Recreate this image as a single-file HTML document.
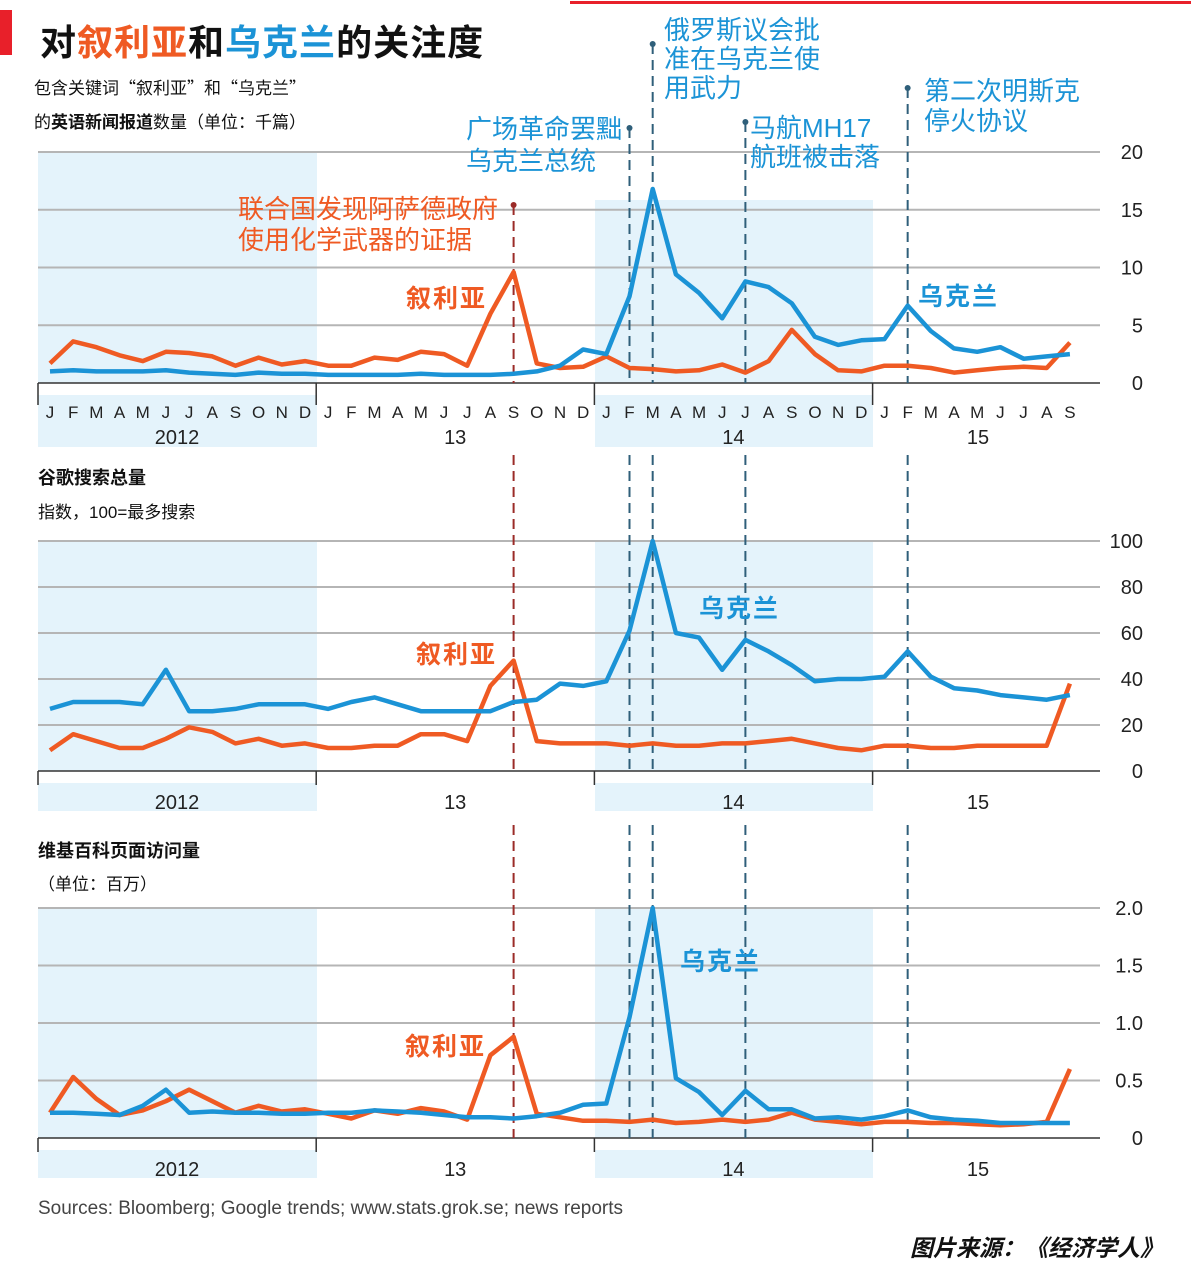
<!DOCTYPE html>
<html><head><meta charset="utf-8">
<style>
body{margin:0;background:#fff;}
svg text{font-family:"Liberation Sans","Noto Sans CJK SC",sans-serif;}
</style></head>
<body>
<svg id="chart" width="1191" height="1276" xmlns="http://www.w3.org/2000/svg">
<rect x="0" y="10" width="12" height="45" fill="#e8202a"/>
<rect x="570" y="1" width="621" height="3" fill="#e8202a"/>
<text x="40" y="55" font-size="36" font-weight="bold" letter-spacing="1" fill="#111">对<tspan fill="#ef5a23">叙利亚</tspan>和<tspan fill="#1b93d6">乌克兰</tspan>的关注度</text>
<text x="34" y="94" font-size="17" fill="#111" style="font-family:'Noto Sans CJK SC',sans-serif">包含关键词“叙利亚”和“乌克兰”</text>
<text x="34" y="128" font-size="17" fill="#111" style="font-family:'Noto Sans CJK SC',sans-serif">的<tspan font-weight="bold">英语新闻报道</tspan>数量（单位：千篇）</text>
<g id="panels"></g>
<text x="38" y="484" font-size="18" font-weight="bold" fill="#111">谷歌搜索总量</text>
<text x="38" y="518" font-size="17" fill="#111">指数，100=最多搜索</text>
<text x="38" y="857" font-size="18" font-weight="bold" fill="#111">维基百科页面访问量</text>
<text x="38" y="890" font-size="17" fill="#111">（单位：百万）</text>
<text x="38" y="1214" font-size="19" fill="#444">Sources: Bloomberg; Google trends; www.stats.grok.se; news reports</text>
<text x="1163" y="1256" font-size="23" font-weight="bold" font-style="italic" fill="#111" text-anchor="end">图片来源：《经济学人》</text>
</svg>
<script>
const months = ["J","F","M","A","M","J","J","A","S","O","N","D"];
const yearLabels = ["2012","13","14","15"];
const news_ukraine = [1.0,1.1,1.0,1.0,1.0,1.1,0.9,0.8,0.7,0.9,0.8,0.8, 0.7,0.7,0.7,0.7,0.8,0.7,0.7,0.7,0.8,1.0,1.5,2.9, 2.5,7.5,16.8,9.4,7.8,5.6,8.8,8.3,6.9,4.0,3.3,3.7, 3.8,6.7,4.5,3.0,2.7,3.1,2.1,2.3,2.5];
const news_syria = [1.7,3.6,3.1,2.4,1.9,2.7,2.6,2.3,1.5,2.2,1.6,1.9, 1.5,1.5,2.2,2.0,2.7,2.5,1.5,6.0,9.6,1.7,1.3,1.4, 2.3,1.3,1.2,1.0,1.1,1.6,0.9,1.9,4.6,2.5,1.1,1.0, 1.5,1.5,1.3,0.9,1.1,1.3,1.4,1.3,3.5];
const search_ukraine = [27,30,30,30,29,44,26,26,27,29,29,29, 27,30,32,29,26,26,26,26,30,31,38,37, 39,61,100,60,58,44,57,52,46,39,40,40, 41,52,41,36,35,33,32,31,33];
const search_syria = [9,16,13,10,10,14,19,17,12,14,11,12, 10,10,11,11,16,16,13,37,48,13,12,12, 12,11,12,11,11,12,12,13,14,12,10,9, 11,11,10,10,11,11,11,11,38];
const wiki_ukraine = [0.22,0.22,0.21,0.20,0.28,0.42,0.22,0.23,0.22,0.22,0.21,0.21, 0.22,0.22,0.24,0.23,0.22,0.20,0.18,0.18,0.17,0.19,0.22,0.29, 0.30,1.05,2.0,0.52,0.40,0.20,0.41,0.25,0.25,0.17,0.18,0.16, 0.19,0.24,0.18,0.16,0.15,0.13,0.13,0.13,0.13];
const wiki_syria = [0.22,0.53,0.34,0.20,0.24,0.32,0.42,0.32,0.22,0.28,0.23,0.25, 0.21,0.17,0.24,0.21,0.26,0.23,0.16,0.72,0.88,0.21,0.18,0.15, 0.15,0.14,0.16,0.13,0.14,0.16,0.14,0.16,0.22,0.16,0.14,0.12, 0.14,0.14,0.13,0.13,0.12,0.11,0.12,0.14,0.60];
const ticks1 = [0,5,10,15,20];
const ticks2 = [0,20,40,60,80,100];
const ticks3 = ["0","0.5","1.0","1.5","2.0"];
const eventMonths = [20,25,26,30,37];

const NS="http://www.w3.org/2000/svg";
const root=document.getElementById('panels');
const BLUE="#1b93d6", RED="#ef5a23";
function xPos(i){return 50+i*23.18;}
function mk(tag,attrs,parent){const e=document.createElementNS(NS,tag);for(const k in attrs)e.setAttribute(k,attrs[k]);(parent||root).appendChild(e);return e;}

const panels=[
 {top:152,bottom:383,max:20,ticks:ticks1,labels:ticks1.map(String),u:news_ukraine,s:news_syria,months:true,band2top:200,lineTop:[205,128,44,122,88]},
 {top:541,bottom:771,max:100,ticks:ticks2,labels:ticks2.map(String),u:search_ukraine,s:search_syria,months:false,band2top:541,lineTop:[455,455,455,455,455]},
 {top:908,bottom:1138,max:2,ticks:ticks3.map(Number),labels:ticks3,u:wiki_ukraine,s:wiki_syria,months:false,band2top:908,lineTop:[825,825,825,825,825]}
];
panels.forEach((p,pi)=>{
 const g=mk('g',{});
 
 
 const y=v=>p.bottom-(v/p.max)*(p.bottom-p.top);
 const labBot=p.bottom+(p.months?64:40);
 let b=mk('rect',{x:38,y:p.top,width:279,height:labBot-p.top,fill:"#e4f3fb"},g);
 
 b=mk('rect',{x:595,y:p.band2top,width:278,height:labBot-p.band2top,fill:"#e4f3fb"},g);
 
 mk('rect',{x:38,y:p.bottom,width:1080,height:12,fill:"#fff"},g);
 p.ticks.forEach((t,i)=>{
  const gl=mk('line',{x1:38,x2:1100,y1:y(t),y2:y(t),stroke:i==0?"#333":"#b5b5b5","stroke-width":i==0?1.5:2},g);
  
  const tl=mk('text',{x:1143,y:y(t)+7,"font-size":20,fill:"#222","text-anchor":"end"},g);
  tl.textContent=p.labels[i];
  
 });
 for(let i=0;i<45;i++){
  if(p.months){
   const ml=mk('text',{x:xPos(i),y:p.bottom+35,"font-size":17,fill:"#222","text-anchor":"middle"},g);
   ml.textContent=months[i%12];
   
  }
 }
 for(let k=0;k<=3;k++){
  const xb=38+k*278.2;
  mk('line',{x1:xb,x2:xb,y1:p.bottom,y2:p.bottom+(p.months?22:14),stroke:"#333","stroke-width":1.5},g);
  const yl=mk('text',{x:k==3?978:xb+139,y:p.bottom+(p.months?61:38),"font-size":20,fill:"#222","text-anchor":"middle"},g);
  yl.textContent=yearLabels[k];
  
 }
 eventMonths.forEach((m,k)=>{
  const ln=mk('line',{x1:xPos(m),x2:xPos(m),y1:p.lineTop[k],y2:p.bottom,stroke:k==0?"#9b2b28":"#2f5f7a","stroke-width":2,"stroke-dasharray":"10,6"},g);
  
  if(pi==0){const d=mk('circle',{cx:xPos(m),cy:p.lineTop[k],r:3,fill:k==0?"#9b2b28":"#2f5f7a"},g);
   }
 });
 [[p.s,RED,'syria-line'],[p.u,BLUE,'ukraine-line']].forEach(([arr,c,n])=>{
  const pts=arr.map((v,i)=>xPos(i).toFixed(1)+','+y(v).toFixed(1)).join(' ');
  const pl=mk('polyline',{points:pts,fill:"none",stroke:c,"stroke-width":4.5,"stroke-linejoin":"round"},g);
  
 });
});
function lbl(x,yy,txt,c,size,name){const t=mk('text',{x:x,y:yy,"font-size":size,fill:c});t.textContent=txt;
 return t;}
lbl(238,218,"联合国发现阿萨德政府",RED,26,'annotation-chemical');
lbl(238,249,"使用化学武器的证据",RED,26,'annotation-chemical-2');
lbl(466,138,"广场革命罢黜",BLUE,26,'annotation-maidan');
lbl(466,170,"乌克兰总统",BLUE,26,'annotation-maidan-2');
lbl(664,39,"俄罗斯议会批",BLUE,26,'annotation-russia');
lbl(664,68,"准在乌克兰使",BLUE,26,'annotation-russia-2');
lbl(664,97,"用武力",BLUE,26,'annotation-russia-3');
lbl(750,137,"马航MH17",BLUE,26,'annotation-mh17');
lbl(750,166,"航班被击落",BLUE,26,'annotation-mh17-2');
lbl(924,100,"第二次明斯克",BLUE,26,'annotation-minsk');
lbl(924,130,"停火协议",BLUE,26,'annotation-minsk-2');
[[406,307],[416,663],[405,1055]].forEach(([x,yy],i)=>{const t=lbl(x,yy,"叙利亚",RED,25,'syria-label-'+(i+1));t.setAttribute('font-weight','bold');t.setAttribute('letter-spacing','2');});
[[918,305],[699,617],[680,970]].forEach(([x,yy],i)=>{const t=lbl(x,yy,"乌克兰",BLUE,25,'ukraine-label-'+(i+1));t.setAttribute('font-weight','bold');t.setAttribute('letter-spacing','2');});
</script>
</body></html>
